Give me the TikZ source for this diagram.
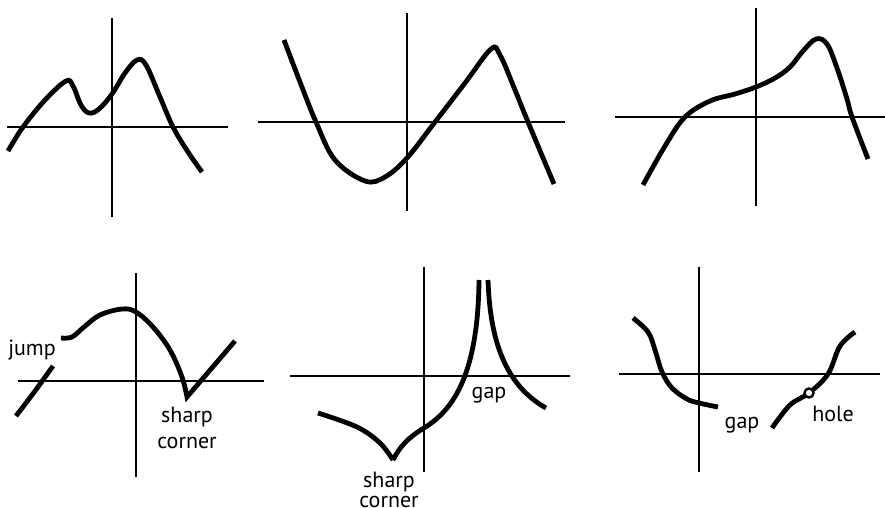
\documentclass[tikz,border=0pt]{standalone}
\usepackage{fontspec}
\setmainfont{PT Sans}
\usetikzlibrary{positioning}

\begin{document}
\begin{tikzpicture}[
  x=1pt, y=-1pt,
  axisline/.style={line width=1.8pt},
  curve/.style={line width=4.8pt, line cap=butt},
  note/.style={font=\fontsize{22}{26}\selectfont, align=center, inner sep=0pt}
]
\useasboundingbox (0,0) rectangle (885,508);
% top row
\draw[axisline] (112,18) -- (112,217);
\draw[axisline] (7,127) -- (228,127);
\draw[curve] plot[smooth, tension=0.6] coordinates {(8,151) (23,127) (45,100) (66,81) (73,86) (81,105) (89,113) (99,109) (112,94) (125,73) (137,60) (146,65) (160,97) (173,127) (188,152) (202,172)};

\draw[axisline] (407,13) -- (407,211);
\draw[axisline] (258,122) -- (565,122);
\draw[curve] plot[smooth, tension=0.6] coordinates {(284,40) (300,82) (316,122) (335,160) (365,181) (385,177) (407,158) (435,122) (465,83) (491,49) (500,55) (515,90) (528,122) (554,184)};

\draw[axisline] (756,8) -- (756,206);
\draw[axisline] (615,117) -- (885,117);
\draw[curve] plot[smooth, tension=0.6] coordinates {(643,185) (665,146) (685,117) (710,101) (735,94) (756,87) (775,78) (790,67) (803,51) (816,39) (827,44) (837,68) (847,99) (852,117) (868,159)};

% bottom row
\draw[axisline] (136,273) -- (136,477);
\draw[axisline] (18,381) -- (264,381);
\draw[curve] plot[smooth, tension=0.6] coordinates {(16,416) (35,391) (53,366)};
\draw[curve] plot[smooth, tension=0.6] coordinates {(61,338) (72,337) (84,327) (100,315) (122,309) (136,312) (153,327) (170,350) (182,377) (187,397)} -- (235,341);
\node[note] (jump) at (32,350) {jump};
\node[note, anchor=north] (corner1) at (187,407) {sharp\\corner};

\draw[axisline] (424,267) -- (424,472);
\draw[axisline] (290,376) -- (570,376);
\draw[curve] plot[smooth, tension=0.6] coordinates {(318,413) (357,427) (380,443) (393,460)};
\draw[curve] (393,460) .. controls (400,446) and (409,437) .. (424,428)
  .. controls (450,412) and (478,380) .. (479,280);
\draw[curve] (488,280) .. controls (490,340) and (505,385) .. (546,408);
\node[note] (gap1) at (489,395) {gap};
\node[note, anchor=north, font=\fontsize{22}{20}\selectfont] (corner2) at (389,472) {sharp\\corner};

\draw[axisline] (699,267) -- (699,472);
\draw[axisline] (619,374) -- (880,374);
\draw[curve] plot[smooth, tension=0.6] coordinates {(633,318) (648,332) (655,350) (662,372) (672,388) (687,399) (699,403) (718,407)};
\draw[curve] plot[smooth, tension=0.6] coordinates {(772,428) (790,405) (809,393) (828,374) (840,346) (855,332)};
\draw[line width=2.4pt, fill=white] (809,393) circle (4.5);
\node[note] (gap2) at (742,425) {gap};
\node[note] (hole) at (833,414) {hole};
\end{tikzpicture}
\end{document}
